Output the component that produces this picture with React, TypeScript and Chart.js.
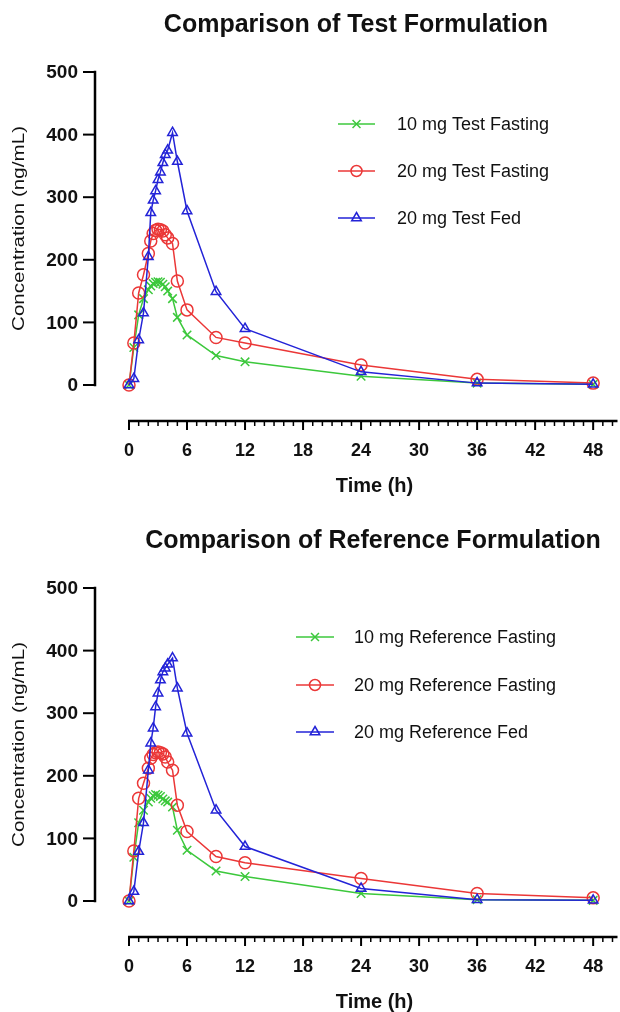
import React, { useEffect, useRef } from "react";
import { Chart, registerables } from "chart.js";
Chart.register(...registerables);

// ---- data ----
const timeH = [0, 0.5, 1, 1.5, 2, 2.25, 2.5, 2.75, 3, 3.25, 3.5, 3.75, 4, 4.5, 5, 6, 9, 12, 24, 36, 48];

const test10Fasting = [0, 60, 112, 138, 152, 158, 162, 164, 165, 164, 161, 157, 150, 138, 108, 80, 47, 37, 14, 3, 1];
const test20Fasting = [0, 67, 147, 176, 210, 230, 242, 247, 249, 248, 246, 240, 235, 226, 166, 120, 76, 67, 32, 9, 3];
const test20Fed = [0, 10, 72, 115, 205, 275, 295, 310, 328, 340, 355, 368, 375, 403, 357, 278, 149, 90, 21, 3, 1];

const ref10Fasting = [0, 70, 125, 145, 158, 164, 168, 170, 169, 167, 163, 160, 158, 150, 113, 81, 48, 39, 12, 2, 1];
const ref20Fasting = [0, 80, 164, 188, 212, 228, 234, 237, 238, 237, 235, 230, 222, 209, 153, 111, 71, 61, 36, 12, 5];
const ref20Fed = [0, 15, 79, 125, 209, 252, 276, 310, 332, 353, 366, 372, 378, 388, 340, 268, 145, 87, 20, 2, 1];

const testLabels = ["10 mg Test Fasting", "20 mg Test Fasting", "20 mg Test Fed"];
const refLabels = ["10 mg Reference Fasting", "20 mg Reference Fasting", "20 mg Reference Fed"];

const xMajorTicks = [0, 6, 12, 18, 24, 30, 36, 42, 48];
const yTicks = [0, 100, 200, 300, 400, 500];

const GREEN = "rgb(60,200,60)";
const RED = "rgb(235,55,55)";
const BLUE = "rgb(35,35,215)";
const COLORS = [GREEN, RED, BLUE];
const STYLES = ["crossRot", "circle", "triangle"];
const RADII = [6, 6, 5.5];

const FONT = "'Liberation Sans', Arial, sans-serif";

function drawMarker(ctx: CanvasRenderingContext2D, style: string, x: number, y: number, r: number, color: string) {
  ctx.save();
  ctx.strokeStyle = color;
  ctx.lineWidth = 1.5;
  ctx.beginPath();
  if (style === "crossRot") {
    const d = r * 0.72;
    ctx.moveTo(x - d, y - d); ctx.lineTo(x + d, y + d);
    ctx.moveTo(x + d, y - d); ctx.lineTo(x - d, y + d);
  } else if (style === "circle") {
    ctx.arc(x, y, r, 0, Math.PI * 2);
  } else {
    ctx.moveTo(x, y - r);
    ctx.lineTo(x + r * 0.87, y + r * 0.5);
    ctx.lineTo(x - r * 0.87, y + r * 0.5);
    ctx.closePath();
  }
  ctx.stroke();
  ctx.restore();
}

const gpPlugin = {
  id: "gp",
  afterDraw(chart: any, _args: any, opts: any) {
    const ctx: CanvasRenderingContext2D = chart.ctx;
    const xs = chart.scales.x;
    const ys = chart.scales.y;
    const x0 = xs.getPixelForValue(0);
    const yAxisX = x0 - 34;
    const yTop = ys.getPixelForValue(500);
    const yBot = ys.getPixelForValue(0);
    const xAxisY = yBot + 36;
    const xEnd = xs.getPixelForValue(50);

    ctx.save();
    ctx.strokeStyle = "#000";
    ctx.fillStyle = "#111";

    // Y axis
    ctx.lineWidth = 2.5;
    ctx.beginPath();
    ctx.moveTo(yAxisX, yTop - 1.25);
    ctx.lineTo(yAxisX, yBot + 1.25);
    ctx.stroke();
    ctx.lineWidth = 2;
    ctx.font = `bold 19px ${FONT}`;
    ctx.textAlign = "right";
    ctx.textBaseline = "middle";
    yTicks.forEach((v) => {
      const p = ys.getPixelForValue(v);
      ctx.beginPath();
      ctx.moveTo(yAxisX - 12, p);
      ctx.lineTo(yAxisX, p);
      ctx.stroke();
      ctx.fillText(String(v), yAxisX - 17, p + 1);
    });

    // X axis
    ctx.lineWidth = 2.5;
    ctx.beginPath();
    ctx.moveTo(x0 - 1, xAxisY);
    ctx.lineTo(xEnd + 5, xAxisY);
    ctx.stroke();
    for (let t = 0; t <= 50; t++) {
      const p = xs.getPixelForValue(t);
      const major = t % 6 === 0;
      ctx.lineWidth = major ? 2 : 1.5;
      ctx.beginPath();
      ctx.moveTo(p, xAxisY);
      ctx.lineTo(p, xAxisY + (major ? 9 : 5));
      ctx.stroke();
    }
    ctx.textAlign = "center";
    ctx.font = `bold 18px ${FONT}`;
    xMajorTicks.forEach((t) => {
      ctx.fillText(String(t), xs.getPixelForValue(t), xAxisY + 30);
    });
    ctx.font = `bold 20px ${FONT}`;
    ctx.fillText("Time (h)", (x0 + 620) / 2, xAxisY + 65);

    // Y title
    ctx.save();
    ctx.font = `16px ${FONT}`;
    const yt = "Concentration (ng/mL)";
    const w = ctx.measureText(yt).width;
    const stretch = 205 / w;
    ctx.translate(20, (yTop + yBot) / 2);
    ctx.rotate(-Math.PI / 2);
    ctx.scale(stretch, 1);
    ctx.fillText(yt, 0, 0);
    ctx.restore();

    // Title
    ctx.font = `bold 25px ${FONT}`;
    ctx.fillText(opts.title, opts.titleX, 25);

    // Legend
    ctx.font = `18px ${FONT}`;
    ctx.textAlign = "left";
    opts.labels.forEach((lab: string, i: number) => {
      const y = opts.rows[i];
      ctx.strokeStyle = COLORS[i];
      ctx.lineWidth = 1.5;
      ctx.beginPath();
      ctx.moveTo(opts.lineX0, y);
      ctx.lineTo(opts.lineX1, y);
      ctx.stroke();
      drawMarker(ctx, STYLES[i], (opts.lineX0 + opts.lineX1) / 2, y, 5.5, COLORS[i]);
      ctx.fillStyle = "#111";
      ctx.fillText(lab, opts.textX, y + 1);
    });
    ctx.restore();
  },
};

type PanelProps = {
  height: number;
  series: number[][];
  labels: string[];
  title: string;
  titleX: number;
  lineX0: number;
  lineX1: number;
  textX: number;
  rows: number[];
};

function Panel(props: PanelProps) {
  const ref = useRef<HTMLCanvasElement | null>(null);
  useEffect(() => {
    if (!ref.current) return;
    const datasets = props.series.map((vals, i) => ({
      label: props.labels[i],
      data: timeH.map((t, k) => ({ x: t, y: vals[k] })),
      borderColor: COLORS[i],
      backgroundColor: "rgba(0,0,0,0)",
      borderWidth: 1.5,
      pointStyle: STYLES[i] as any,
      pointRadius: RADII[i],
      pointBorderWidth: 1.5,
      pointBorderColor: COLORS[i],
      pointBackgroundColor: "rgba(0,0,0,0)",
      tension: 0,
      clip: false as any,
      order: 3 - i,
    }));
    const chart = new Chart(ref.current, {
      type: "line",
      data: { datasets },
      options: {
        responsive: false,
        animation: false,
        events: [],
        layout: { padding: { left: 129, right: 3, top: 72, bottom: props.height - 385 } },
        scales: {
          x: { type: "linear", min: 0, max: 50, display: false },
          y: { type: "linear", min: 0, max: 500, display: false },
        },
        plugins: {
          legend: { display: false },
          tooltip: { enabled: false },
          title: { display: false },
          gp: {
            title: props.title,
            titleX: props.titleX,
            labels: props.labels,
            lineX0: props.lineX0,
            lineX1: props.lineX1,
            textX: props.textX,
            rows: props.rows,
          },
        } as any,
      },
      plugins: [gpPlugin],
    });
    return () => chart.destroy();
  }, []);
  return <canvas ref={ref} width={620} height={props.height} style={{ display: "block", width: 620, height: props.height }} />;
}

export default function App() {
  return (
    <div style={{ position: "absolute", left: 0, top: 0, width: 620, height: 1012, background: "#fff" }}>
      <Panel
        height={516}
        series={[test10Fasting, test20Fasting, test20Fed]}
        labels={testLabels}
        title="Comparison of Test Formulation"
        titleX={356}
        lineX0={338}
        lineX1={375}
        textX={397}
        rows={[124, 171, 218]}
      />
      <Panel
        height={496}
        series={[ref10Fasting, ref20Fasting, ref20Fed]}
        labels={refLabels}
        title="Comparison of Reference Formulation"
        titleX={373}
        lineX0={296}
        lineX1={334}
        textX={354}
        rows={[121, 169, 216]}
      />
    </div>
  );
}
